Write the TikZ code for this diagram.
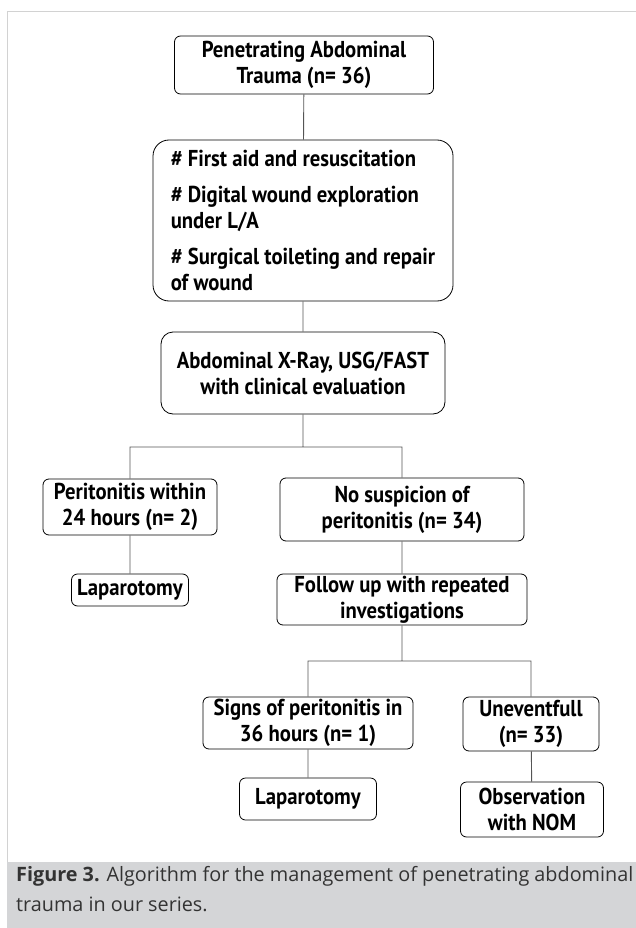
\documentclass[tikz,border=0pt]{standalone}
\usepackage{fontspec}
\usetikzlibrary{positioning}
\newfontfamily\boxfont{PT Sans Bold}[FakeStretch=0.9]
\newfontfamily\capfont{Open Sans}
\definecolor{capgray}{HTML}{D4D5D7}
\definecolor{framegray}{HTML}{D2D2D2}
\definecolor{linegray}{HTML}{555555}
\tikzset{
	x=1pt, y=-1pt,
	box/.style={draw, thick, rounded corners=6pt, align=center, inner sep=0pt,
		font=\boxfont\fontsize{23}{26}\selectfont},
	link/.style={draw=linegray, line width=0.9pt}}

\begin{document}
\begin{tikzpicture}
		\useasboundingbox (0,0) rectangle (636,928);
		% frame and caption
		\draw[framegray, line width=1pt] (7,862) -- (7,12) -- (636,12);
		\fill[capgray] (7,862) rectangle (636,928);
		\node[anchor=north west, align=left, inner sep=0pt, text=black!80,
			font=\capfont\fontsize{19.8}{30}\selectfont] (cap) at (16,866)
			{\textbf{Figure 3.} Algorithm for the management of penetrating abdominal\\trauma in our series.};

		\node[box, minimum width=259, minimum height=58] (pat) at (304,65) {Penetrating Abdominal\\Trauma (n= 36)};
		\node[box, rounded corners=16pt, align=left, minimum width=300, minimum height=161] (aid) at (303,220.5)
			{\# First aid and resuscitation\\[10pt]\# Digital wound exploration\\under L/A\\[10pt]\# Surgical toileting and repair\\of wound};
		\node[box, rounded corners=12pt, minimum width=284, minimum height=82] (xray) at (303,373) {Abdominal X-Ray, USG/FAST\\with clinical evaluation};
		\node[box, minimum width=174, minimum height=56] (perit) at (130,507) {Peritonitis within\\24 hours (n= 2)};
		\node[box, minimum width=244, minimum height=63] (nosusp) at (402,509.5) {No suspicion of\\peritonitis (n= 34)};
		\node[box, minimum width=117, minimum height=32] (lapa) at (130,590) {Laparotomy};
		\node[box, minimum width=250, minimum height=51] (follow) at (402,599.5) {Follow up with repeated\\investigations};
		\node[box, minimum width=210, minimum height=52] (signs) at (308,723) {Signs of peritonitis in\\36 hours (n= 1)};
		\node[box, minimum width=136, minimum height=54] (unev) at (531,724) {Uneventfull\\(n= 33)};
		\node[box, minimum width=137, minimum height=42] (lapb) at (308,799) {Laparotomy};
		\node[box, minimum width=143, minimum height=55] (nom) at (532,809.5) {Observation\\with NOM};

		\coordinate (split1) at (303,447);
		\coordinate (split2) at (402,661);

		\path[link]
		(pat) -- (aid)
		(aid) -- (xray)
		(xray) -- (split1)
		(split1) -| (perit)
		(split1) -| (nosusp)
		(perit) -- (lapa)
		(nosusp) -- (follow)
		(follow) -- (split2)
		(split2) -| (signs)
		(split2) -| (unev)
		(signs) -- (lapb)
		(unev) -- (nom)
		;
	\end{tikzpicture}
\end{document}
